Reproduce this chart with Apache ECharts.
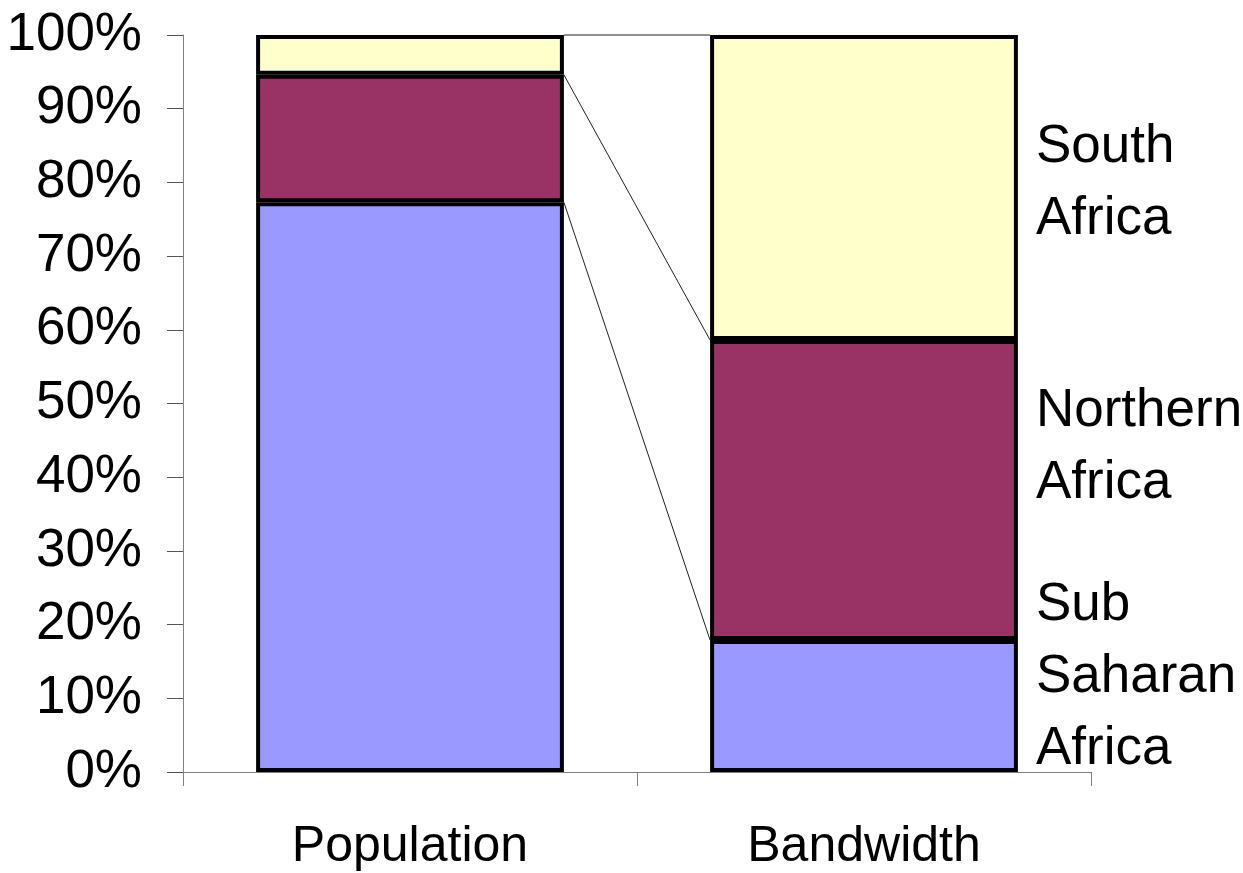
<!DOCTYPE html>
<html>
<head>
<meta charset="utf-8">
<script src="https://cdn.jsdelivr.net/npm/echarts@6/dist/echarts.min.js"></script>
<style>html,body{margin:0;padding:0;background:#fff}#c{width:1243px;height:873px}</style>
</head>
<body>
<div id="c"></div>
<script>
const categories = ['Population', 'Bandwidth'];
const seriesNames = ['Sub Saharan Africa', 'Northern Africa', 'South Africa'];
const subSaharan = [77.3, 17.9];
const northern = [17.3, 40.7];
const southAfrica = [5.4, 41.4];
const yTicks = [0, 10, 20, 30, 40, 50, 60, 70, 80, 90, 100];

const colors = ['#9999FF', '#993366', '#FFFFCC'];
const values = [subSaharan, northern, southAfrica];
const labelOffsets = [[0, -29], [0, -43], [0, -4]];
const FONT = 'Liberation Sans, Arial, sans-serif';
const BAR_FRAC = 0.678;

// cumulative tops for series lines
const cum = [];
let acc = [0, 0];
values.forEach(v => { acc = [acc[0] + v[0], acc[1] + v[1]]; cum.push([acc[0], acc[1]]); });

const chart = echarts.init(document.getElementById('c'));
const barSeries = values.map((v, i) => ({
  name: seriesNames[i],
  type: 'bar',
  stack: 'total',
  barWidth: (BAR_FRAC * 100) + '%',
  itemStyle: { color: colors[i], borderColor: '#000', borderWidth: 4 },
  data: v.map((val, j) => ({
    value: val,
    label: j === 1 ? {
      show: true, position: 'right', distance: 18, offset: labelOffsets[i],
      formatter: () => seriesNames[i].replace(/ /g, '\n'),
      color: '#000', fontSize: 53, fontFamily: FONT, lineHeight: 72, align: 'left'
    } : { show: false }
  })),
  z: 2
}));

const seriesLines = {
  type: 'custom',
  silent: true,
  z: 1,
  data: cum,
  renderItem: function (params, api) {
    const a = api.coord([0, api.value(0)]);
    const b = api.coord([1, api.value(1)]);
    const half = api.size([1, 0])[0] * BAR_FRAC / 2;
    return {
      type: 'line',
      shape: { x1: a[0] + half, y1: a[1], x2: b[0] - half, y2: b[1] },
      style: { stroke: '#222', lineWidth: 1 }
    };
  },
  encode: { x: 0, y: [0, 1] }
};

chart.setOption({
  animation: false,
  backgroundColor: '#fff',
  grid: { left: 183, right: 152, top: 35, bottom: 101, containLabel: false },
  xAxis: {
    type: 'category',
    data: categories,
    axisLine: { show: true, lineStyle: { color: '#808080', width: 1 } },
    axisTick: { show: true, length: 14, lineStyle: { color: '#808080' } },
    axisLabel: { color: '#000', fontSize: 50, fontFamily: FONT, margin: 50 }
  },
  yAxis: {
    type: 'value',
    min: yTicks[0], max: yTicks[yTicks.length - 1], interval: yTicks[1] - yTicks[0],
    axisLine: { show: true, lineStyle: { color: '#808080', width: 1 } },
    axisTick: { show: true, length: 16, lineStyle: { color: '#555' } },
    splitLine: { show: false },
    axisLabel: { color: '#000', fontSize: 53, fontFamily: FONT, margin: 41, formatter: '{value}%' }
  },
  series: [...barSeries, seriesLines]
});
</script>
</body>
</html>
